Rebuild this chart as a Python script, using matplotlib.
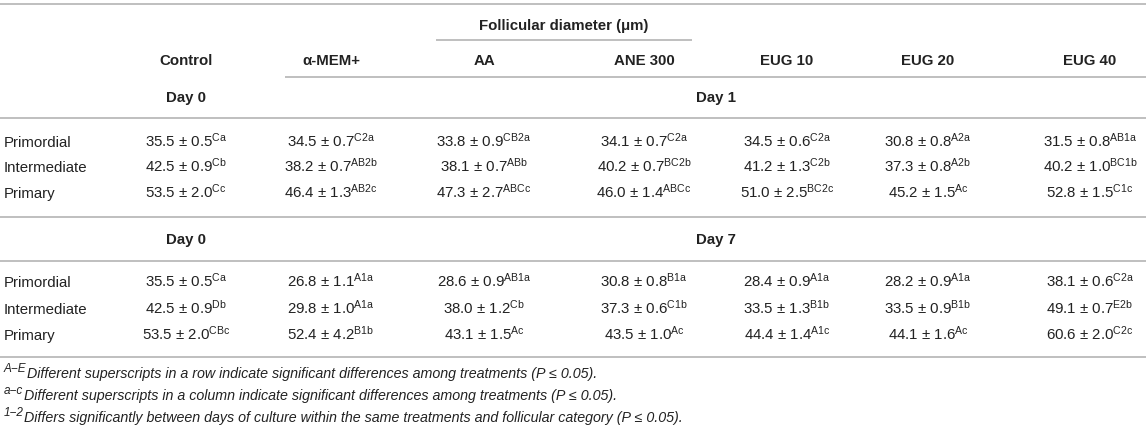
import matplotlib.pyplot as plt

plt.rcParams['font.family'] = ['Liberation Sans', 'DejaVu Sans']
plt.rcParams['mathtext.fontset'] = 'custom'
plt.rcParams['mathtext.rm'] = 'Liberation Sans'
plt.rcParams['mathtext.it'] = 'Liberation Sans:italic'
plt.rcParams['mathtext.bf'] = 'Liberation Sans:bold'

# table content
treatments = ['Control', 'α-MEM+', 'AA', 'ANE 300', 'EUG 10', 'EUG 20', 'EUG 40']
categories = ['Primordial', 'Intermediate', 'Primary']

day1_mean = [[35.5, 34.5, 33.8, 34.1, 34.5, 30.8, 31.5],
             [42.5, 38.2, 38.1, 40.2, 41.2, 37.3, 40.2],
             [53.5, 46.4, 47.3, 46.0, 51.0, 45.2, 52.8]]
day1_sem = [[0.5, 0.7, 0.9, 0.7, 0.6, 0.8, 0.8],
            [0.9, 0.7, 0.7, 0.7, 1.3, 0.8, 1.0],
            [2.0, 1.3, 2.7, 1.4, 2.5, 1.5, 1.5]]
day1_sup = [['Ca', 'C2a', 'CB2a', 'C2a', 'C2a', 'A2a', 'AB1a'],
            ['Cb', 'AB2b', 'ABb', 'BC2b', 'C2b', 'A2b', 'BC1b'],
            ['Cc', 'AB2c', 'ABCc', 'ABCc', 'BC2c', 'Ac', 'C1c']]

day7_mean = [[35.5, 26.8, 28.6, 30.8, 28.4, 28.2, 38.1],
             [42.5, 29.8, 38.0, 37.3, 33.5, 33.5, 49.1],
             [53.5, 52.4, 43.1, 43.5, 44.4, 44.1, 60.6]]
day7_sem = [[0.5, 1.1, 0.9, 0.8, 0.9, 0.9, 0.6],
            [0.9, 1.0, 1.2, 0.6, 1.3, 0.9, 0.7],
            [2.0, 4.2, 1.5, 1.0, 1.4, 1.6, 2.0]]
day7_sup = [['Ca', 'A1a', 'AB1a', 'B1a', 'A1a', 'A1a', 'C2a'],
            ['Db', 'A1a', 'Cb', 'C1b', 'B1b', 'B1b', 'E2b'],
            ['CBc', 'B1b', 'Ac', 'Ac', 'A1c', 'Ac', 'C2c']]

group_title = 'Follicular diameter (μm)'
day_labels = [('Day 0', 'Day 1'), ('Day 0', 'Day 7')]

note_marks = ['A\u2212E', 'a\u2212c', '1\u22122']
note_texts = ['Different superscripts in a row indicate significant differences among treatments (P \u2264 0.05).',
              'Different superscripts in a column indicate significant differences among treatments (P \u2264 0.05).',
              'Differs significantly between days of culture within the same treatments and follicular category (P \u2264 0.05).']

W, H = 1146, 428
col_x = [186, 331, 484, 644, 787, 928, 1090]
txt = '#222222'
rule = '#b4b4b4'
fs = 10.8
base = 5  # baseline offset from visual centre (px)

fig = plt.figure(figsize=(W / 100, H / 100), dpi=100)
ax = fig.add_axes([0, 0, 1, 1])
ax.set_xlim(0, W)
ax.set_ylim(H, 0)
ax.axis('off')


def hrule(y, x0=0, x1=W):
    ax.plot([x0, x1], [y, y], color=rule, lw=1.2, solid_capstyle='butt')


hrule(4)
hrule(40, 436, 692)
hrule(77, 285, W)
hrule(118)
hrule(217)
hrule(261)
hrule(357)

ax.text(564, 25 + base, group_title, ha='center', va='baseline', fontsize=fs,
        fontweight='bold', color=txt)
for x, name in zip(col_x, treatments):
    ax.text(x, 60 + base, name, ha='center', va='baseline', fontsize=fs,
            fontweight='bold', color=txt)

blocks = [(day1_mean, day1_sem, day1_sup, 97, [142, 167, 193]),
          (day7_mean, day7_sem, day7_sup, 239, [282, 309, 335])]
for (means, sems, sups, yday, ys), (d0, d1) in zip(blocks, day_labels):
    ax.text(col_x[0], yday + base, d0, ha='center', va='baseline', fontsize=fs,
            fontweight='bold', color=txt)
    ax.text(716, yday + base, d1, ha='center', va='baseline', fontsize=fs,
            fontweight='bold', color=txt)
    for i, cat in enumerate(categories):
        y = ys[i] + base
        ax.text(4, y, cat, ha='left', va='baseline', fontsize=fs, color=txt)
        for j, x in enumerate(col_x):
            s = f'{means[i][j]:.1f} \u00b1 {sems[i][j]:.1f}' + r'$^{\mathrm{' + sups[i][j] + '}}$'
            ax.text(x, y, s, ha='center', va='baseline', fontsize=fs, color=txt)

for y, mark, note in zip([373, 395, 417], note_marks, note_texts):
    sup = ax.text(4, y + base - 6, mark, ha='left', va='baseline', fontsize=8.5,
                  fontstyle='italic', color=txt)
    ax.annotate(note, xy=(1, y + base), xycoords=(sup, 'data'),
                xytext=(0.3, 0), textcoords='offset points', ha='left',
                va='baseline', fontsize=10.3, fontstyle='italic', color=txt,
                annotation_clip=False)

fig.savefig('out.png', dpi=100)
